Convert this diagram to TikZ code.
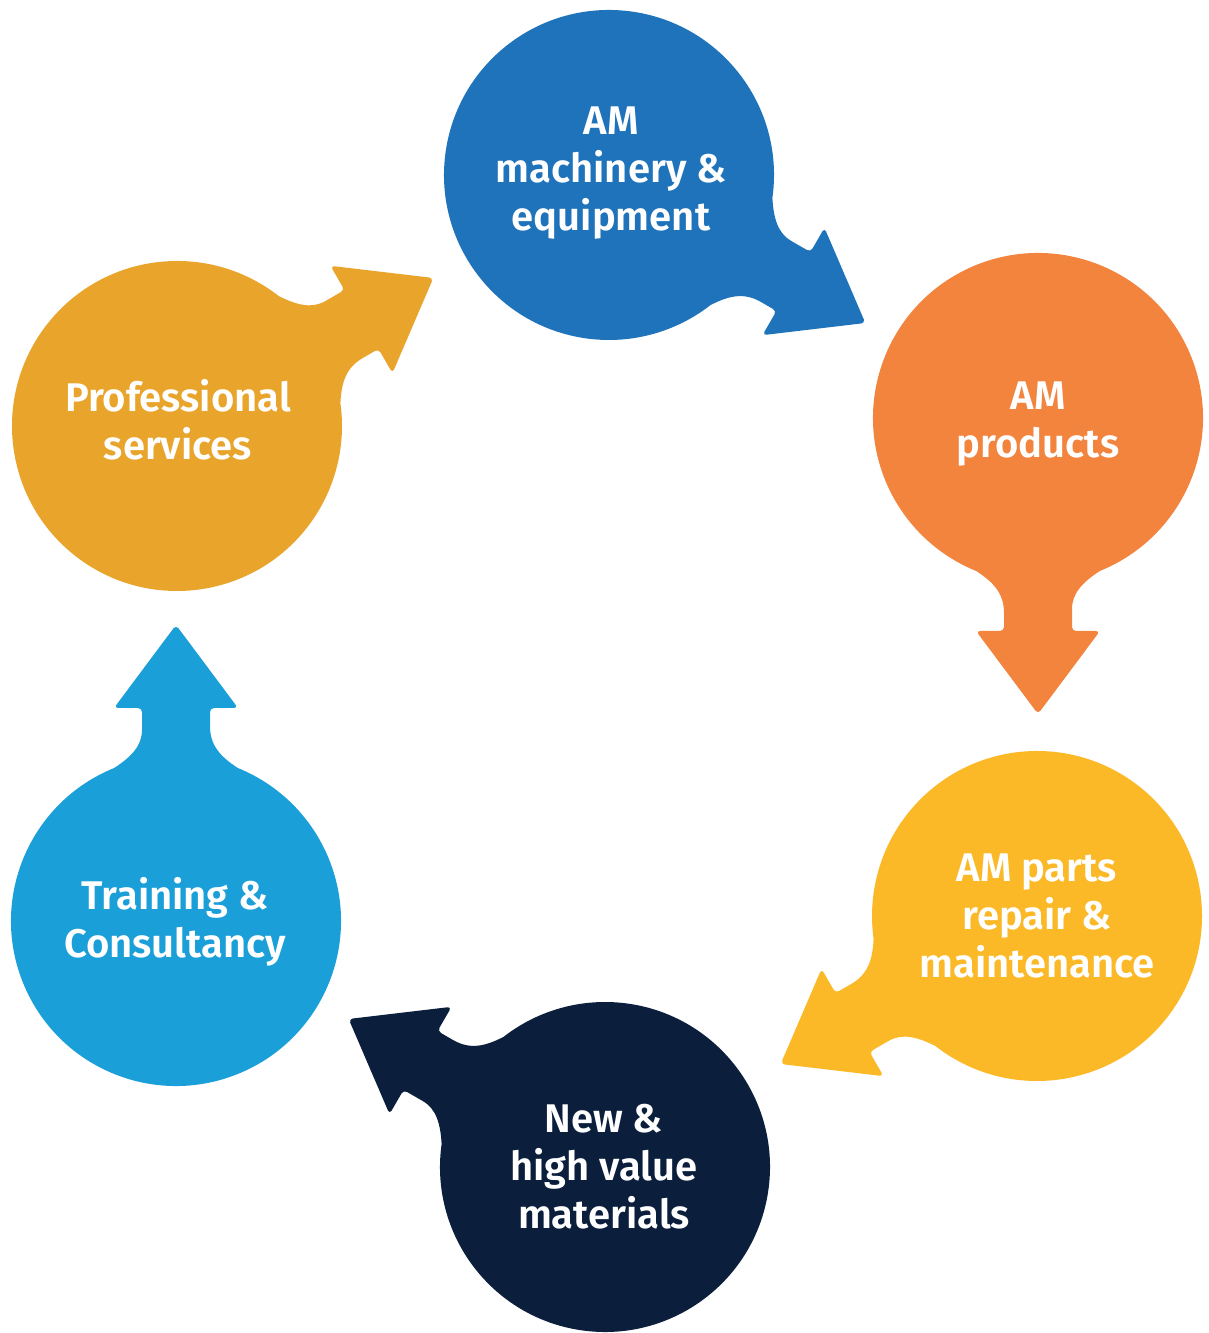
\documentclass[tikz,border=0pt]{standalone}
\usepackage{fontspec}
\setmainfont{Fira Sans}[BoldFont={Fira Sans SemiBold}]
\definecolor{cTop}{RGB}{31,115,186}
\definecolor{cOrange}{RGB}{242,132,61}
\definecolor{cYellow}{RGB}{251,185,40}
\definecolor{cNavy}{RGB}{11,31,61}
\definecolor{cLight}{RGB}{26,159,217}
\definecolor{cGold}{RGB}{233,164,44}
\newcommand\bubbleshape[4]{%
  \fill[#4, shift={(#1,#2)}, rotate=#3]
    (22:165) arc[start angle=22, end angle=338, radius=165]
    .. controls (164,-45) and (175,-34) .. (195,-34)
    [rounded corners=4] -- (213,-34) -- (213,-62) -- (296,0) -- (213,62) -- (213,34) -- (195,34)
    [sharp corners] .. controls (175,34) and (164,45) .. (22:165) -- cycle;
}
\tikzset{
  lbl/.style={text=white, align=center, font=\fontsize{40}{48}\selectfont\bfseries, inner sep=0pt}
}
\begin{document}
\begin{tikzpicture}[x=1pt, y=1pt]
  \useasboundingbox (0,0) rectangle (1208,1333);
  \bubbleshape{609}{1158}{-30}{cTop}
  \bubbleshape{1038}{915}{-90}{cOrange}
  \bubbleshape{1037}{417}{-150}{cYellow}
  \bubbleshape{605}{166}{150}{cNavy}
  \bubbleshape{176}{412}{90}{cLight}
  \bubbleshape{177}{907}{30}{cGold}
  \node[lbl] (machinery) at (611,1160) {AM\\machinery \&\\equipment};
  \node[lbl] (products) at (1038,909) {AM\\products};
  \node[lbl] (repair) at (1037,417) {AM parts\\repair \&\\maintenance};
  \node[lbl] (materials) at (604,166) {New \&\\high value\\materials};
  \node[lbl] (training) at (175,411) {Training \&\\Consultancy};
  \node[lbl] (services) at (178,913) {Professional\\services};
\end{tikzpicture}
\end{document}
